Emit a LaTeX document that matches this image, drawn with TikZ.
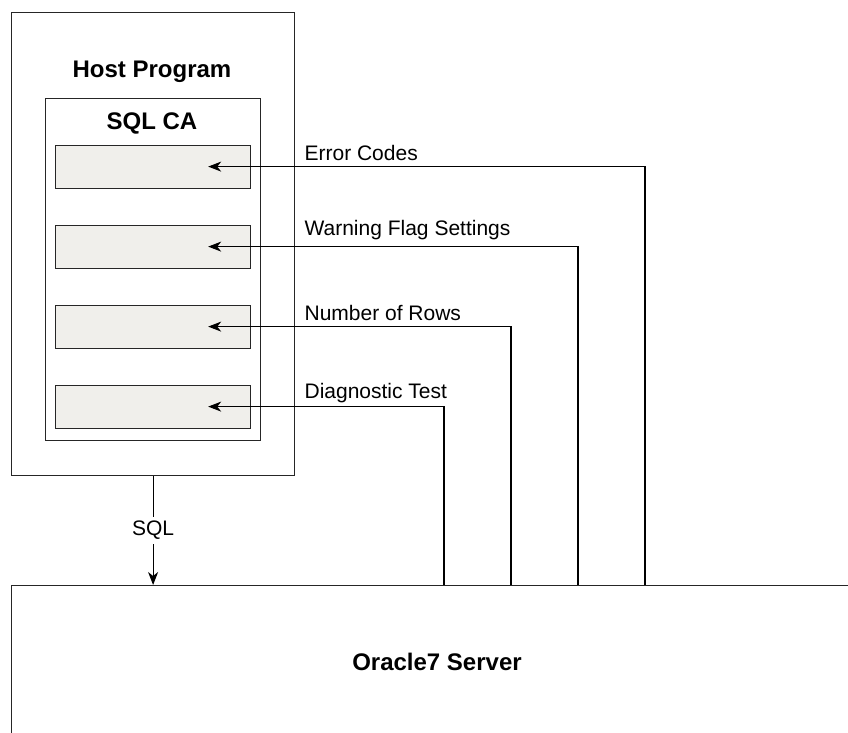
\documentclass[tikz,border=0pt]{standalone}
\usepackage{fontspec}
\setmainfont{Liberation Sans}
\usetikzlibrary{arrows.meta,calc}
\definecolor{slotfill}{HTML}{F0EFEB}
\begin{document}
\begin{tikzpicture}[x=1pt,y=-1pt,
  line width=1.2pt,
  boxline/.style={draw=black!85, line width=1.2pt},
  slot/.style={boxline, fill=slotfill, minimum width=195pt, minimum height=43pt, inner sep=0pt},
  conn/.style={line width=1.1pt, -{Stealth[length=13pt,width=10pt,inset=4pt]}},
  lbl/.style={font=\fontsize{21}{25}\selectfont, anchor=west, inner sep=0pt},
  bold/.style={font=\fontsize{24}{28}\selectfont\bfseries, inner sep=0pt}]
\useasboundingbox (0,0) rectangle (848,732);
\clip (0,0) rectangle (848,732);
% host program
\node[boxline, minimum width=283pt, minimum height=463pt, inner sep=0pt, anchor=north west] (host) at (11,12) {};
\node[bold] (hosttitle) at (152,72) {Host Program};
\node[boxline, minimum width=215pt, minimum height=342pt, inner sep=0pt, anchor=north west] (sqlca) at (45,98) {};
\node[bold] (sqlcatitle) at (152,123) {SQL CA};
\node[slot, anchor=north west] (s1) at (55,145) {};
\node[slot, anchor=north west] (s2) at (55,225) {};
\node[slot, anchor=north west] (s3) at (55,305) {};
\node[slot, anchor=north west] (s4) at (55,385) {};
% server
\node[boxline, minimum width=900pt, minimum height=300pt, inner sep=0pt, anchor=north west] (server) at (11,585) {};
\node[bold] (servertitle) at (437,662) {Oracle7 Server};
% tips
\coordinate (t1) at ($(s1.east)+(-43,-0.5)$);
\coordinate (t2) at ($(s2.east)+(-43,-0.5)$);
\coordinate (t3) at ($(s3.east)+(-43,-0.5)$);
\coordinate (t4) at ($(s4.east)+(-43,-0.5)$);
\coordinate (b1) at (645,585);
\coordinate (b2) at (578,585);
\coordinate (b3) at (511,585);
\coordinate (b4) at (444,585);
\draw[conn] (b1) |- (t1);
\draw[conn] (b2) |- (t2);
\draw[conn] (b3) |- (t3);
\draw[conn] (b4) |- (t4);
\node[lbl] (l1) at (304,153) {Error Codes};
\node[lbl] (l2) at (304,230) {Warning Flag Settings};
\node[lbl] (l3) at (304,313) {Number of Rows};
\node[lbl] (l4) at (304,393) {Diagnostic Test};
% SQL
\coordinate (hs) at (host.south);
\draw[conn] (hs) -- (hs |- server.north) node[midway, fill=white, font=\fontsize{21}{25}\selectfont, inner sep=4pt] (sqllbl) {SQL};
\end{tikzpicture}
\end{document}
